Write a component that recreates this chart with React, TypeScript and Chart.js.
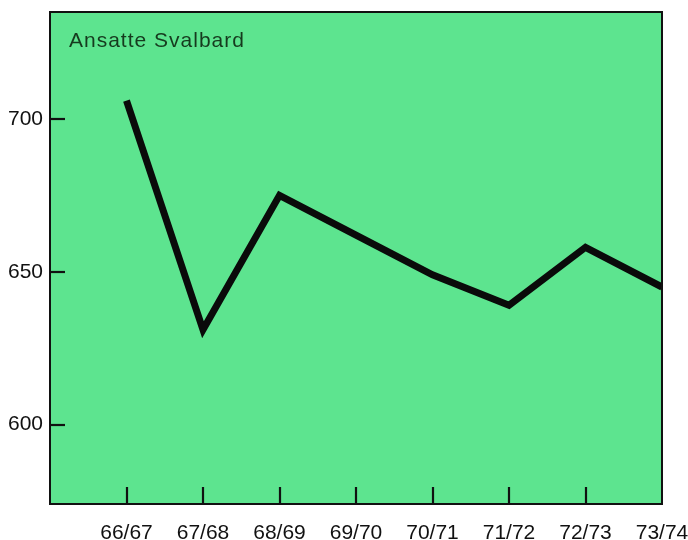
import React, { useEffect, useRef } from 'react';
import { Chart, registerables } from 'chart.js';
Chart.register(...registerables);

const categories = ['66/67', '67/68', '68/69', '69/70', '70/71', '71/72', '72/73', '73/74'];
const employees = [706, 631, 675, 662, 649, 639, 658, 645];
const yTickValues = [600, 650, 700];
const chartTitle = 'Ansatte Svalbard';

const FONT = '"Liberation Sans", Arial, Helvetica, sans-serif';
const GREEN = '#5de48f';

const framePlugin = {
  id: 'frame',
  beforeDraw(chart: any) {
    const { ctx, chartArea: a } = chart;
    ctx.save();
    ctx.fillStyle = GREEN;
    ctx.fillRect(a.left, a.top, a.right - a.left, a.bottom - a.top);
    ctx.restore();
  },
  afterDatasetsDraw(chart: any) {
    const { ctx, chartArea: a, scales } = chart;
    ctx.save();
    ctx.strokeStyle = '#111';
    ctx.lineWidth = 2.2;
    for (let i = 0; i < categories.length - 1; i++) {
      const px = Math.round(scales.x.getPixelForValue(i));
      ctx.beginPath();
      ctx.moveTo(px, a.bottom);
      ctx.lineTo(px, a.bottom - 17);
      ctx.stroke();
    }
    for (const v of yTickValues) {
      const py = Math.round(scales.y.getPixelForValue(v));
      ctx.beginPath();
      ctx.moveTo(a.left, py);
      ctx.lineTo(a.left + 15, py);
      ctx.stroke();
    }
    ctx.restore();
  },
  afterDraw(chart: any) {
    const { ctx, chartArea: a } = chart;
    ctx.save();
    ctx.strokeStyle = '#111';
    ctx.lineWidth = 2;
    ctx.strokeRect(a.left, a.top, a.right - a.left, a.bottom - a.top);
    ctx.fillStyle = '#163a1e';
    ctx.font = `21px ${FONT}`;
    ctx.textBaseline = 'alphabetic';
    try { (ctx as any).letterSpacing = '1px'; } catch (e) {}
    ctx.fillText(chartTitle, a.left + 19, a.top + 35);
    ctx.restore();
  },
};

export default function App() {
  const ref = useRef<HTMLCanvasElement>(null);
  useEffect(() => {
    document.body.style.margin = '0';
    const canvas = ref.current!;
    const chart = new Chart(canvas, {
      type: 'line',
      data: {
        datasets: [
          {
            data: employees.map((v, i) => ({ x: i, y: v })),
            borderColor: '#0a0a0a',
            borderWidth: 7,
            pointRadius: 0,
            tension: 0,
            borderJoinStyle: 'miter',
            borderCapStyle: 'butt',
          },
        ],
      },
      options: {
        responsive: false,
        animation: false,
        devicePixelRatio: 1,
        layout: { padding: { top: 12, right: 26, left: 0, bottom: 0 } },
        plugins: { legend: { display: false }, tooltip: { enabled: false }, title: { display: false } },
        scales: {
          x: {
            type: 'linear',
            min: -1,
            max: categories.length - 1,
            afterBuildTicks: (s: any) => {
              s.ticks = categories.map((_, i) => ({ value: i }));
            },
            afterFit: (s: any) => {
              s.height = 36;
              s.paddingLeft = 0;
              s.paddingRight = 0;
            },
            grid: { display: false, drawTicks: false },
            border: { display: false },
            ticks: {
              autoSkip: false,
              maxRotation: 0,
              padding: 17,
              color: '#111',
              font: { family: FONT, size: 21 },
              callback: (v: any) => categories[v] ?? '',
            },
          },
          y: {
            type: 'linear',
            min: 574,
            max: 735,
            afterBuildTicks: (s: any) => {
              s.ticks = yTickValues.map((v) => ({ value: v }));
            },
            afterFit: (s: any) => {
              s.width = 50;
              s.paddingTop = 0;
              s.paddingBottom = 0;
            },
            grid: { display: false, drawTicks: false },
            border: { display: false },
            ticks: {
              padding: 7,
              color: '#111',
              font: { family: FONT, size: 21 },
            },
          },
        },
      },
      plugins: [framePlugin],
    } as any);
    return () => chart.destroy();
  }, []);
  return <canvas ref={ref} width={688} height={540} style={{ display: 'block' }} />;
}
